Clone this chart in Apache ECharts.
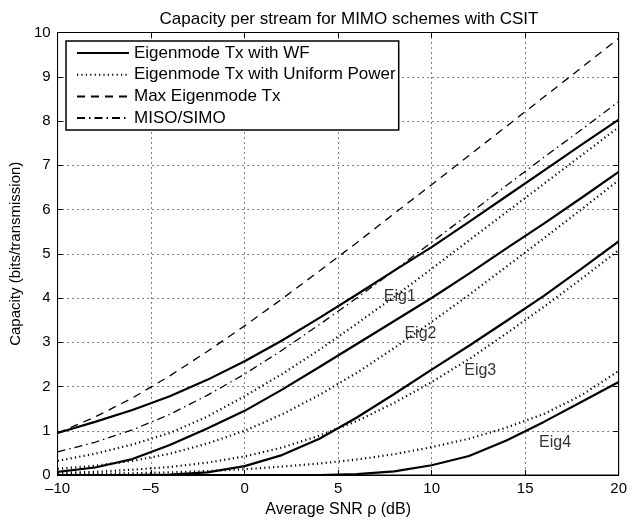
<!DOCTYPE html>
<html>
<head>
<meta charset="utf-8">
<script src="https://cdn.jsdelivr.net/npm/echarts@6/dist/echarts.min.js"></script>
<style>
html,body{margin:0;padding:0;background:#fff;}
#chart{width:630px;height:523px;}
</style>
</head>
<body>
<div id="chart"></div>
<script>
// SNR in dB (x-axis samples)
const snr = [-10,-8,-6,-4,-2,0,2,4,6,8,10,12,14,16,18,20];

// Eigenmode Tx with water-filling, per eigenmode
const wfEig1 = [0.95,1.20,1.47,1.78,2.15,2.57,3.04,3.55,4.08,4.62,5.15,5.72,6.30,6.88,7.46,8.03];
const wfEig2 = [0.07,0.17,0.36,0.68,1.05,1.45,1.93,2.44,2.96,3.48,4.00,4.55,5.12,5.68,6.26,6.85];
const wfEig3 = [0.00,0.00,0.00,0.01,0.06,0.20,0.45,0.82,1.30,1.83,2.38,2.92,3.48,4.05,4.66,5.28];
const wfEig4 = [0.00,0.00,0.00,0.00,0.00,0.00,0.00,0.00,0.02,0.08,0.22,0.43,0.78,1.20,1.65,2.10];

// Eigenmode Tx with uniform power, per eigenmode
const upEig1 = [0.32,0.48,0.69,0.95,1.32,1.78,2.28,2.83,3.42,4.03,4.66,5.30,5.94,6.58,7.22,7.86];
const upEig2 = [0.14,0.21,0.32,0.48,0.71,1.00,1.37,1.81,2.31,2.87,3.46,4.07,4.71,5.35,6.00,6.66];
const upEig3 = [0.05,0.07,0.12,0.18,0.28,0.42,0.62,0.89,1.22,1.63,2.10,2.62,3.20,3.80,4.43,5.08];
const upEig4 = [0.02,0.03,0.04,0.06,0.09,0.13,0.19,0.26,0.35,0.47,0.63,0.82,1.07,1.38,1.80,2.35];

// Max eigenmode Tx and MISO/SIMO
const maxEig = [0.95,1.31,1.74,2.24,2.79,3.37,3.98,4.61,5.25,5.91,6.56,7.22,7.88,8.54,9.20,9.87];
const misoSimo = [0.52,0.74,1.02,1.37,1.80,2.28,2.82,3.40,4.00,4.62,5.26,5.90,6.54,7.18,7.80,8.44];

// Curve annotations
const annoText = ['Eig1','Eig2','Eig3','Eig4'];
const annoX = [8.3, 9.4, 12.6, 16.6];
const annoY = [4.04, 3.2, 2.35, 0.74];

const legendNames = ['Eigenmode Tx with WF','Eigenmode Tx with Uniform Power','Max Eigenmode Tx','MISO/SIMO'];

const FONT = 'Liberation Sans, Arial, Helvetica, sans-serif';
const pairs = arr => snr.map((x,i)=>[x,arr[i]]);

function lineSeries(name, arr, type, width){
  return {
    name: name, type: 'line', data: pairs(arr), symbol: 'none', smooth: false,
    xAxisIndex: 0, yAxisIndex: 0,
    lineStyle: {color:'#000', width: width, type: type, cap: 'butt'},
    itemStyle: {color:'#000'},
    emphasis: {disabled: true}, animation: false, z: 3
  };
}

const series = [];
[wfEig1,wfEig2,wfEig3,wfEig4].forEach(a=>series.push(lineSeries(legendNames[0], a, 'solid', 2.2)));
[upEig1,upEig2,upEig3,upEig4].forEach(a=>series.push(lineSeries(legendNames[1], a, [1.2,3.2], 2.2)));
series.push(lineSeries(legendNames[2], maxEig, [8,6], 1.3));
series.push(lineSeries(legendNames[3], misoSimo, [8,4,1.5,4], 1.3));
series.push({
  name: 'annotations', type: 'scatter', symbolSize: 0, silent: true,
  data: annoText.map((t,i)=>({name:t, value:[annoX[i], annoY[i]]})),
  label: {show: true, position: 'inside', formatter: '{b}', color: '#000', fontSize: 16, fontFamily: FONT},
  animation: false
});

const tickFmt = v => String(v).replace('-', '\u2013');

const option = {
  animation: false,
  backgroundColor: '#fff',
  title: {
    text: 'Capacity per stream for MIMO schemes with CSIT',
    left: 344, top: 6, textAlign: 'center',
    textStyle: {fontFamily: FONT, fontSize: 17, fontWeight: 'normal', color: '#000'}
  },
  grid: {left: 57, right: 9, top: 32.5, bottom: 47, show: true, borderColor: '#000', borderWidth: 1, backgroundColor: 'transparent'},
  legend: {
    data: legendNames,
    orient: 'vertical', left: 66, top: 41,
    itemWidth: 52, itemHeight: 14, itemGap: 4.7,
    padding: [3.5, 3, 3.5, 10],
    borderColor: '#000', borderWidth: 1.5, backgroundColor: '#fff',
    itemStyle: {color: 'transparent', borderColor: 'transparent', borderWidth: 0, opacity: 0},
    textStyle: {fontFamily: FONT, fontSize: 17, lineHeight: 17, color: '#000'},
    selectedMode: false, z: 10
  },
  xAxis: [{
    type: 'value', min: -10, max: 20, interval: 5,
    name: 'Average SNR \u03c1 (dB)', nameLocation: 'middle', nameGap: 27,
    nameTextStyle: {fontFamily: FONT, fontSize: 16, color: '#000'},
    axisLine: {show: true, onZero: false, lineStyle: {color: '#000', width: 1}},
    axisTick: {show: true, inside: true, length: 5, lineStyle: {color: '#000'}},
    axisLabel: {formatter: tickFmt, fontFamily: FONT, fontSize: 15, color: '#000', margin: 6},
    splitLine: {show: true, lineStyle: {color: '#000', width: 1, type: [1, 4]}}
  },{
    type: 'value', min: -10, max: 20, interval: 5, position: 'top',
    axisLine: {show: true, onZero: false, lineStyle: {color: '#000'}},
    axisTick: {show: true, inside: true, length: 5, lineStyle: {color: '#000'}},
    axisLabel: {show: false}, splitLine: {show: false}
  }],
  yAxis: [{
    type: 'value', min: 0, max: 10, interval: 1,
    name: 'Capacity (bits/transmission)', nameLocation: 'middle', nameGap: 30,
    nameTextStyle: {fontFamily: FONT, fontSize: 15, color: '#000'},
    axisLine: {show: true, onZero: false, lineStyle: {color: '#000', width: 1}},
    axisTick: {show: true, inside: true, length: 5, lineStyle: {color: '#000'}},
    axisLabel: {fontFamily: FONT, fontSize: 15, color: '#000', margin: 7},
    splitLine: {show: true, lineStyle: {color: '#000', width: 1, type: [1, 4]}}
  },{
    type: 'value', min: 0, max: 10, interval: 1, position: 'right',
    axisLine: {show: true, onZero: false, lineStyle: {color: '#000'}},
    axisTick: {show: true, inside: true, length: 5, lineStyle: {color: '#000'}},
    axisLabel: {show: false}, splitLine: {show: false}
  }],
  series: series
};

const chart = echarts.init(document.getElementById('chart'), null, {renderer: 'canvas'});
chart.setOption(option);
</script>
</body>
</html>
